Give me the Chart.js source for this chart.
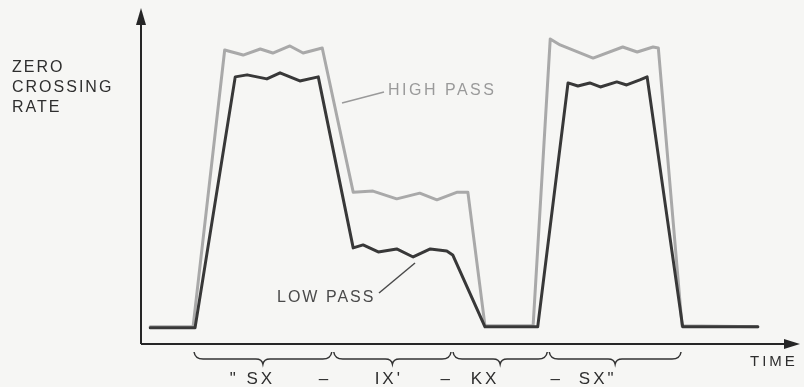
<!DOCTYPE html>
<html>
<head>
<meta charset="utf-8">
<script src="https://cdn.jsdelivr.net/npm/chart.js@4"></script>
<style>
  body { margin: 0; background: #f6f6f4; }
  #wrap { width: 804px; height: 387px; position: relative; }
</style>
</head>
<body>
<div id="wrap"><canvas id="chart"></canvas></div>
<script>
// time (0-100) and zero crossing rate (0-100)
const highTime = [1.4, 7.9, 12.7, 15.5, 18.1, 20.0, 22.6, 24.6, 27.5, 32.2, 35.2, 38.8, 42.3, 44.9, 48.0, 49.6, 52.2, 59.5, 62.1, 63.6, 68.6, 73.1, 75.3, 77.7, 78.5, 82.1, 93.6];
const highRate = [5.1, 5.1, 87.5, 86.0, 87.8, 86.6, 88.7, 86.6, 88.1, 45.2, 45.5, 43.2, 44.9, 42.9, 45.2, 45.2, 5.4, 5.4, 90.8, 89.0, 85.1, 88.4, 86.9, 88.4, 88.1, 5.4, 5.1];

const lowTime = [1.4, 8.2, 14.3, 16.1, 19.1, 21.1, 24.1, 26.9, 32.2, 33.7, 36.0, 38.8, 41.3, 43.9, 46.4, 47.3, 52.2, 60.2, 64.8, 66.3, 68.1, 69.7, 72.2, 73.7, 75.7, 76.8, 82.2, 93.6];
const lowRate = [4.8, 4.8, 79.5, 80.1, 78.9, 80.7, 78.3, 79.5, 28.6, 29.5, 27.4, 28.3, 25.9, 28.3, 27.7, 26.5, 5.1, 5.1, 77.7, 76.8, 77.7, 76.5, 78.0, 77.1, 78.6, 79.5, 5.1, 5.1];

// phoneme braces along the time axis
const braceEdges = [7.9, 29.1, 47.2, 61.8, 82.1];
const phonemeLabels = ['" SX', '–', "IX'", '–', 'KX', '–', 'SX"'];
const phonemeAt = [16.9, 27.9, 37.6, 46.4, 52.2, 63.1, 69.3];

function toPoints(xs, ys) {
    return xs.map((x, i) => ({ x: x, y: ys[i] }));
}

const sketch = {
    id: "sketch",
    afterDatasetsDraw(chart) {
        const ctx = chart.ctx;
        const xs = chart.scales.x, ys = chart.scales.y;
        const area = chart.chartArea;
        const ox = xs.getPixelForValue(0), oy = ys.getPixelForValue(0);
        ctx.save();
        ctx.strokeStyle = "#262626";
        ctx.fillStyle = "#262626";
        ctx.lineWidth = 2;

        // axes with arrow heads
        ctx.beginPath();
        ctx.moveTo(ox, oy); ctx.lineTo(ox, area.top + 10);
        ctx.moveTo(ox, oy); ctx.lineTo(area.right - 10, oy);
        ctx.stroke();
        ctx.beginPath();
        ctx.moveTo(ox, area.top);
        ctx.lineTo(ox - 5, area.top + 17);
        ctx.lineTo(ox + 5, area.top + 17);
        ctx.closePath();
        ctx.fill();
        ctx.beginPath();
        ctx.moveTo(area.right, oy);
        ctx.lineTo(area.right - 16, oy - 5);
        ctx.lineTo(area.right - 16, oy + 5);
        ctx.closePath();
        ctx.fill();

        // braces
        ctx.lineWidth = 1.5;
        ctx.strokeStyle = "#333";
        const top = oy + 8, mid = oy + 15, tip = oy + 20;
        for (let i = 0; i < braceEdges.length - 1; i++) {
            const a = xs.getPixelForValue(braceEdges[i]) + 1;
            const b = xs.getPixelForValue(braceEdges[i + 1]) - 1;
            const c = (a + b) / 2;
            ctx.beginPath();
            ctx.moveTo(a, top);
            ctx.quadraticCurveTo(a + 1, mid, a + 9, mid);
            ctx.lineTo(c - 7, mid);
            ctx.quadraticCurveTo(c - 1, mid, c, tip);
            ctx.quadraticCurveTo(c + 1, mid, c + 7, mid);
            ctx.lineTo(b - 9, mid);
            ctx.quadraticCurveTo(b - 1, mid, b, top);
            ctx.stroke();
        }

        // text
        ctx.textBaseline = "middle";
        ctx.fillStyle = "#2e2e2e";
        ctx.font = "17px 'Liberation Sans', Arial, sans-serif";
        ctx.letterSpacing = "3px";
        ctx.textAlign = "center";
        phonemeLabels.forEach((t, i) => {
            ctx.fillText(t, xs.getPixelForValue(phonemeAt[i]), oy + 35);
        });

        ctx.textAlign = "left";
        ctx.font = "15px 'Liberation Sans', Arial, sans-serif";
        ctx.fillText("TIME", 750, oy + 18);

        ctx.font = "16px 'Liberation Sans', Arial, sans-serif";
        ctx.letterSpacing = "2px";
        ctx.fillText("ZERO", 12, 68);
        ctx.fillText("CROSSING", 12, 88);
        ctx.fillText("RATE", 12, 108);

        // series call-outs
        ctx.letterSpacing = "2.5px";
        ctx.fillStyle = "#9a9a9a";
        ctx.fillText("HIGH PASS", 388, 91);
        ctx.strokeStyle = "#9a9a9a";
        ctx.lineWidth = 1.5;
        ctx.beginPath();
        ctx.moveTo(342, 103); ctx.lineTo(384, 92);
        ctx.stroke();

        ctx.letterSpacing = "2px";
        ctx.fillStyle = "#4a4a4a";
        ctx.fillText("LOW PASS", 277, 298);
        ctx.strokeStyle = "#4a4a4a";
        ctx.beginPath();
        ctx.moveTo(379, 293); ctx.lineTo(415, 263);
        ctx.stroke();
        ctx.restore();
    }
};

new Chart(document.getElementById("chart"), {
    type: "line",
    data: {
        datasets: [
            {
                label: "High pass",
                data: toPoints(highTime, highRate),
                borderColor: "#a9a9a9",
                borderWidth: 3,
                pointRadius: 0,
                tension: 0,
                borderJoinStyle: "round",
                borderCapStyle: "round",
                order: 2
            },
            {
                label: "Low pass",
                data: toPoints(lowTime, lowRate),
                borderColor: "#383838",
                borderWidth: 3,
                pointRadius: 0,
                tension: 0,
                borderJoinStyle: "round",
                borderCapStyle: "round",
                order: 1
            }
        ]
    },
    options: {
        responsive: true,
        maintainAspectRatio: false,
        animation: false,
        layout: { padding: { left: 141, top: 8, right: 4, bottom: 43 } },
        plugins: { legend: { display: false }, tooltip: { enabled: false } },
        scales: {
            x: { type: "linear", min: 0, max: 100, display: false },
            y: { min: 0, max: 100, display: false }
        }
    },
    plugins: [sketch]
});
</script>
</body>
</html>
